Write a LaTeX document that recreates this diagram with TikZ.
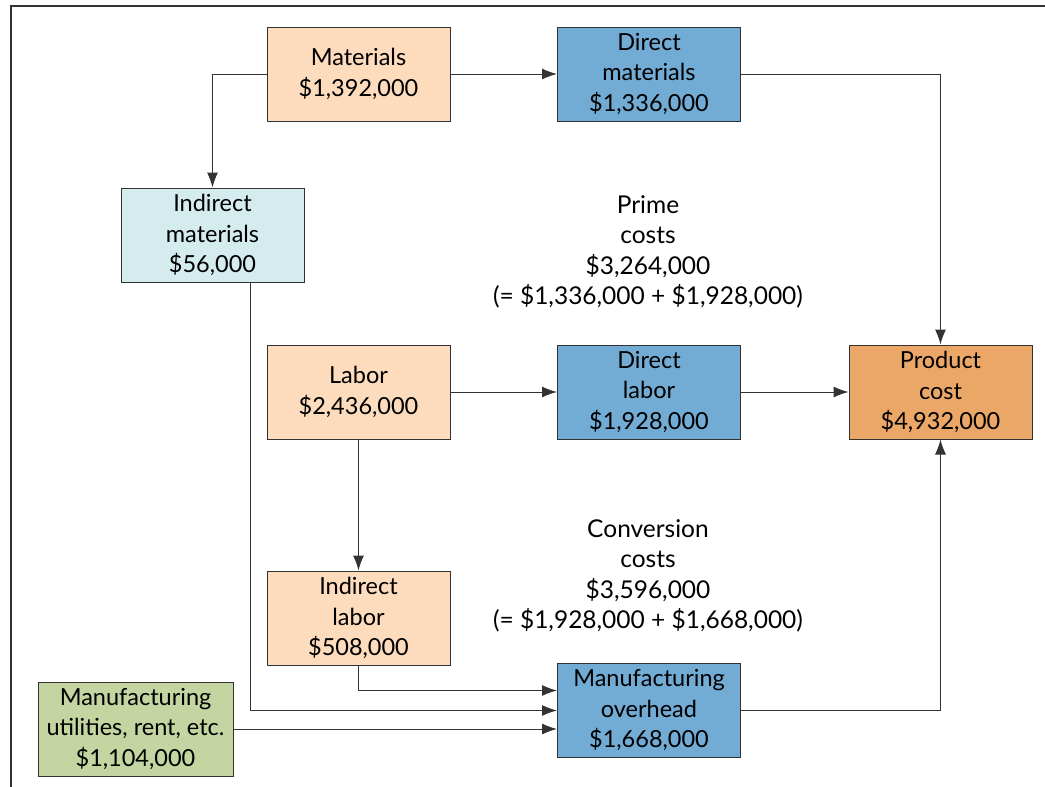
\documentclass[tikz,border=0pt]{standalone}
\usepackage{fontspec}
\setmainfont{Lato}
\usetikzlibrary{positioning,arrows.meta}

\definecolor{boxline}{HTML}{333333}
\definecolor{peach}{HTML}{FDDBBD}
\definecolor{costblue}{HTML}{72ABD4}
\definecolor{paleblue}{HTML}{D5ECEF}
\definecolor{prodorange}{HTML}{EBA768}
\definecolor{sage}{HTML}{C5D5A2}

\begin{document}
\begin{tikzpicture}[
    x=1pt, y=-1pt,
    box/.style={draw=boxline, line width=1pt, minimum width=183pt,
        minimum height=94pt, inner sep=0pt, align=center,
        font=\fontsize{23.5}{30.5}\selectfont},
    flow/.style={draw=boxline, line width=1pt, -{Latex[length=15pt,width=11pt]}},
    note/.style={align=center, font=\fontsize{24.5}{30.5}\selectfont}
]

\useasboundingbox (0,0) rectangle (1045,787);
\draw[boxline, line width=1.2pt] (1045,6) -- (11,6) -- (11,787);

% Cost boxes
\node[box, fill=peach] (mat) at (358.5,74) {Materials\\\$1,392,000};
\node[box, fill=costblue] (dmat) at (649,74) {Direct\\materials\\\$1,336,000};
\node[box, fill=paleblue] (imat) at (212.5,235) {Indirect\\materials\\\$56,000};
\node[box, fill=peach] (lab) at (358.5,392) {Labor\\\$2,436,000};
\node[box, fill=costblue] (dlab) at (649,392) {Direct\\labor\\\$1,928,000};
\node[box, fill=prodorange] (prod) at (940.5,392) {Product\\cost\\\$4,932,000};
\node[box, fill=peach] (ilab) at (358.5,618) {Indirect\\labor\\\$508,000};
\node[box, fill=costblue] (moh) at (649,710.5) {Manufacturing\\overhead\\\$1,668,000};
\node[box, fill=sage, minimum width=195pt] (util) at (135.5,729) {Manufacturing\\utilities, rent, etc.\\\$1,104,000};

% Totals
\node[note] (prime) at (648,252) {Prime\\costs\\\$3,264,000\\(= \$1,336,000 + \$1,928,000)};
\node[note] (conv) at (648,576) {Conversion\\costs\\\$3,596,000\\(= \$1,928,000 + \$1,668,000)};

% Flows
\draw[flow] (mat.west) -| (imat.north);
\draw[flow] (mat) -- (dmat);
\draw[flow] (dmat) -| (prod.north);
\draw[flow] (lab) -- (dlab);
\draw[flow] (dlab) -- (prod);
\draw[flow] (lab) -- (ilab);
\draw[flow] (ilab.south) |- ([yshift=20pt]moh.west);
\draw[flow] ([xshift=37.5pt]imat.south) |- (moh.west);
\draw[flow] (util.east) -- (util.east -| moh.west);
\draw[flow] (moh.east) -| (prod.south);

\end{tikzpicture}
\end{document}
